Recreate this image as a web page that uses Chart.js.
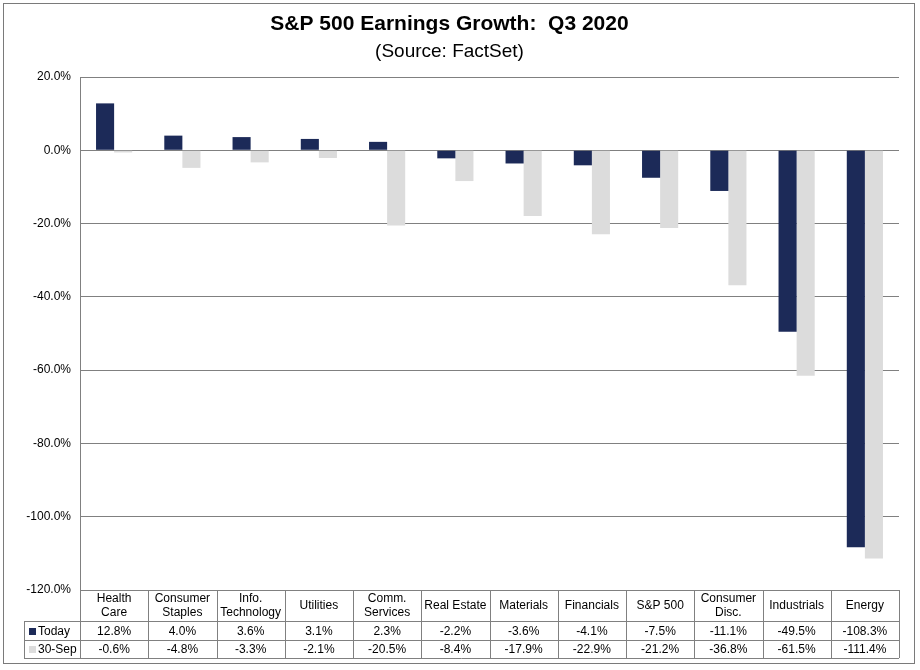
<!DOCTYPE html>
<html>
<head>
<meta charset="utf-8">
<script src="https://cdn.jsdelivr.net/npm/chart.js@4"></script>
<style>
  body { margin: 0; background: #fff; }
</style>
</head>
<body>
<canvas id="chart" width="920" height="670"></canvas>
<script>
// categories (header cells of the data table)
var categories = [
  ['Health', 'Care'], ['Consumer', 'Staples'], ['Info.', 'Technology'], ['Utilities'],
  ['Comm.', 'Services'], ['Real Estate'], ['Materials'], ['Financials'],
  ['S&P 500'], ['Consumer', 'Disc.'], ['Industrials'], ['Energy']
];
var seriesNames = ['Today', '30-Sep'];
var todayValues = [12.8, 4.0, 3.6, 3.1, 2.3, -2.2, -3.6, -4.1, -7.5, -11.1, -49.5, -108.3];
var sep30Values = [-0.6, -4.8, -3.3, -2.1, -20.5, -8.4, -17.9, -22.9, -21.2, -36.8, -61.5, -111.4];
var yTicks = [20, 0, -20, -40, -60, -80, -100, -120];

var NAVY = '#1c2a58';
var LIGHT = '#dcdcdc';
var LINE = '#808080';
var FONT = '"Liberation Sans", Arial, sans-serif';

// draws the outer frame and the data table under the plot, using the x scale
var dataTable = {
  id: 'dataTable',
  beforeDraw: function (chart) {
    var c = chart.ctx;
    c.save();
    c.fillStyle = '#fff';
    c.fillRect(0, 0, chart.width, chart.height);
    c.restore();
  },
  afterDraw: function (chart) {
    var c = chart.ctx, x = chart.scales.x, area = chart.chartArea;
    var colW = (area.right - area.left) / categories.length;
    var top = area.bottom, headBot = top + 31, row1 = headBot + 19, row2 = row1 + 18;
    var legendLeft = 24;
    c.save();
    c.strokeStyle = LINE;
    c.lineWidth = 1;
    c.beginPath();
    // horizontal lines
    c.moveTo(area.left, top + 0.5); c.lineTo(area.right, top + 0.5);
    [headBot, row1, row2].forEach(function (y) {
      c.moveTo(legendLeft, y + 0.5); c.lineTo(area.right, y + 0.5);
    });
    // vertical lines
    c.moveTo(legendLeft + 0.5, headBot); c.lineTo(legendLeft + 0.5, row2);
    for (var i = 0; i <= categories.length; i++) {
      var vx = Math.round(x.getPixelForValue(i) - colW / 2) + 0.5;
      if (i === categories.length) vx = Math.round(x.getPixelForValue(i - 1) + colW / 2) + 0.5;
      c.moveTo(vx, top); c.lineTo(vx, row2);
    }
    c.stroke();

    c.fillStyle = '#000';
    c.font = '12px ' + FONT;
    c.textAlign = 'center';
    c.textBaseline = 'middle';
    categories.forEach(function (lab, i) {
      var cx = x.getPixelForValue(i);
      var mid = (top + headBot) / 2;
      if (lab.length === 2) {
        c.fillText(lab[0], cx, mid - 7);
        c.fillText(lab[1], cx, mid + 7);
      } else {
        c.fillText(lab[0], cx, mid);
      }
      c.fillText(todayValues[i].toFixed(1) + '%', cx, (headBot + row1) / 2 + 1);
      c.fillText(sep30Values[i].toFixed(1) + '%', cx, (row1 + row2) / 2 + 1);
    });

    // legend keys in the table
    c.textAlign = 'left';
    [[NAVY, seriesNames[0], (headBot + row1) / 2], [LIGHT, seriesNames[1], (row1 + row2) / 2]].forEach(function (r) {
      c.fillStyle = r[0];
      c.fillRect(legendLeft + 5, Math.round(r[2]) - 3, 7, 7);
      c.fillStyle = '#000';
      c.fillText(r[1], legendLeft + 14, r[2] + 1);
    });

    // outer frame
    c.strokeStyle = '#7a7a7a';
    c.strokeRect(3.5, 3.5, 911, 660);
    c.restore();
  }
};

new Chart(document.getElementById('chart').getContext('2d'), {
  type: 'bar',
  data: {
    labels: categories,
    datasets: [
      { label: seriesNames[0], data: todayValues, backgroundColor: NAVY, borderWidth: 0 },
      { label: seriesNames[1], data: sep30Values, backgroundColor: LIGHT, borderWidth: 0 }
    ]
  },
  options: {
    responsive: false,
    animation: false,
    devicePixelRatio: 1,
    categoryPercentage: 0.53,
    barPercentage: 1.0,
    layout: { padding: { left: 0, right: 21, bottom: 80, top: 0 } },
    plugins: {
      legend: { display: false },
      tooltip: { enabled: false },
      title: {
        display: true,
        text: 'S&P 500 Earnings Growth:  Q3 2020',
        color: '#000',
        font: { family: FONT, size: 21, weight: 'bold' },
        padding: { top: 12, bottom: 1 }
      },
      subtitle: {
        display: true,
        text: '(Source: FactSet)',
        color: '#000',
        font: { family: FONT, size: 19 },
        padding: { top: 2, bottom: 14 }
      }
    },
    scales: {
      x: { display: false },
      y: {
        min: -120,
        max: 20,
        afterFit: function (scale) { scale.width = 80; },
        afterBuildTicks: function (scale) {
          scale.ticks = yTicks.map(function (v) { return { value: v }; });
        },
        border: { display: true, color: LINE, width: 1 },
        grid: { color: LINE, lineWidth: 1, drawTicks: false },
        ticks: {
          color: '#000',
          padding: 9,
          font: { family: FONT, size: 12 },
          callback: function (v) { return v.toFixed(1) + '%'; }
        }
      }
    }
  },
  plugins: [dataTable]
});
</script>
</body>
</html>
